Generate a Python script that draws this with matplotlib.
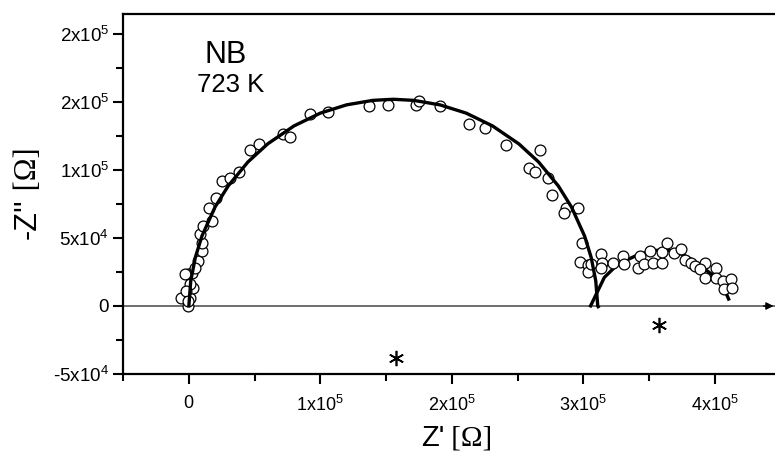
import matplotlib
matplotlib.use("Agg")
import matplotlib.pyplot as plt
import numpy as np

plt.rcParams['font.family'] = ['Liberation Sans', 'DejaVu Sans']
plt.rcParams['mathtext.default'] = 'regular'

# ---- data (Ohm) ----
S = 1e4
z_re = np.array([-0.60, -0.07, -0.02, 0.24, 0.74, 1.00, 1.00, 0.82, 1.07, 1.76, 1.53, 2.09, 2.52, 3.16, 3.79,
                 4.68, 5.31, 7.17, 7.73, 9.25, 10.57, 13.70, 15.18, 17.26, 17.51, 19.11,
                 21.32, 22.52, 24.12, 26.71, 25.89, 26.33, 27.34, 27.60, 28.69, 28.56, 29.58, 29.89, 29.78,
                 30.34, 30.34, 31.36, 31.41, 32.25, 33.01, 33.13,
                 30.59, 31.36, 34.15, 34.28, 35.04, 34.61, 35.30, 35.98, 35.98, 36.39, 36.90, 37.45, 37.71,
                 38.16, 38.47, 39.23, 38.85, 39.28, 40.12, 40.12, 40.63, 41.21, 40.71, 41.27,
                 -0.27, 0.11, 0.36, 0.49, 0.11, -0.20, -0.05]) * S
z_im = np.array([0.61, 0.0, 2.35, 2.45, 3.31, 4.04, 4.65, 5.32, 5.88, 6.25, 7.23, 7.96, 9.19, 9.39, 9.85,
                 11.45, 11.89, 12.67, 12.43, 14.13, 14.24, 14.71, 14.78, 14.76, 15.07, 14.71,
                 13.40, 13.11, 11.82, 11.45, 10.13, 9.87, 9.38, 8.14, 7.23, 6.82, 7.23, 4.61, 3.26,
                 3.01, 2.52, 3.80, 3.18, 3.18, 3.68, 3.07,
                 3.07, 2.82, 2.82, 3.68, 4.04, 3.07, 3.18, 3.18, 3.99, 4.61, 3.92, 4.17, 3.36,
                 3.18, 2.94, 3.18, 2.70, 2.08, 2.82, 2.08, 1.84, 1.96, 1.23, 1.35,
                 2.33, 0.61, 1.35, 2.82, 1.62, 1.10, 0.37]) * S

fit1_re = np.array([0.0, 0.15, 0.5, 1.0, 2.0, 3.0, 4.5, 6.0, 8.0, 10.0, 12.0, 14.0, 15.55,
                    17.1, 19.1, 21.1, 23.1, 25.1, 26.6, 28.1, 29.1, 30.1, 30.6, 30.95, 31.1, 31.2]) * S
fit1_im = np.array([-0.1, 1.83, 3.57, 5.14, 7.28, 8.83, 10.59, 11.92, 13.24, 14.18, 14.79, 15.12, 15.2,
                    15.12, 14.79, 14.18, 13.24, 11.92, 10.59, 8.83, 7.28, 5.14, 3.57, 1.83, 0.0, -0.15]) * S

fit2_re = np.array([30.5, 31.1, 31.6, 32.6, 34.0, 35.2, 36.2, 37.2, 38.2, 39.2, 40.2, 40.7, 41.1]) * S
fit2_im = np.array([-0.1, 1.1, 2.1, 3.05, 3.7, 4.05, 4.15, 3.95, 3.45, 2.75, 2.0, 1.3, 0.4]) * S

centers_re = np.array([15.73, 35.78]) * S
centers_im = np.array([-3.82, -1.40]) * S

yticks = [-5e4, 0, 5e4, 1e5, 1.5e5, 2e5]
ytick_labels = ['-5x10$^4$', '0', '5x10$^4$', '1x10$^5$', '2x10$^5$', '2x10$^5$']
xticks = [0, 1e5, 2e5, 3e5, 4e5]
xtick_labels = ['0', '1x10$^5$', '2x10$^5$', '3x10$^5$', '4x10$^5$']

W, H = 775, 457
fig = plt.figure(figsize=(W / 100, H / 100), dpi=100)
ax = fig.add_axes([123 / W, 1 - 374 / H, 1 - 123 / W + 0.002, (374 - 13.5) / H])

ax.set_xlim(-5e4, 4.4695e5)
ax.set_ylim(-5e4, 2.1507e5)

# zero line with arrow
ax.axhline(0, color='#555555', lw=1.2, zorder=1)
ax.annotate('', xy=(4.468e5, 0), xytext=(4.35e5, 0),
            arrowprops=dict(arrowstyle='-|>', color='k', lw=1.0, mutation_scale=11),
            zorder=2, annotation_clip=False)

ax.plot(fit2_re, fit2_im, color='k', lw=2.4, zorder=2, solid_capstyle='butt')
ax.plot(z_re, z_im, 'o', ms=7.8, mfc='white', mec='k', mew=0.9, zorder=3)
ax.plot(fit1_re, fit1_im, color='k', lw=2.4, zorder=4, solid_capstyle='butt')
ax.plot(centers_re, centers_im, ls='none', marker=(6, 2, 0), ms=11, mec='k', mew=1.2, zorder=4)

for s in ['left', 'bottom', 'top']:
    ax.spines[s].set_linewidth(1.6)
ax.spines['right'].set_visible(False)

ax.set_yticks(yticks)
ax.set_yticklabels(ytick_labels, fontsize=13.5)
ax.set_yticks([-2.5e4, 2.5e4, 7.5e4, 1.25e5, 1.75e5], minor=True)
ax.set_xticks(xticks)
ax.set_xticklabels(xtick_labels, fontsize=13)
ax.set_xticks([-5e4, 5e4, 1.5e5, 2.5e5, 3.5e5], minor=True)
ax.tick_params(axis='both', which='major', direction='out', length=7, width=1.5)
ax.tick_params(axis='both', which='minor', direction='out', length=5, width=1.5)
ax.tick_params(axis='y', which='both', pad=3)
ax.tick_params(axis='x', which='both', pad=8)
ax.tick_params(axis='x', which='both', top=False)

# annotations
fig.text(226 / W, 1 - 63 / H, 'NB', fontsize=22, ha='center', va='baseline')
fig.text(231 / W, 1 - 92 / H, '723 K', fontsize=18.5, ha='center', va='baseline')

# axis labels (sans + serif parts)
fig.text(444 / W, 1 - 446 / H, "Z'", fontsize=21, ha='right', va='baseline')
fig.text(444 / W, 1 - 446 / H, " [Ω]", fontsize=21, ha='left', va='baseline', family='Liberation Serif')
fig.text(28 / W, 1 - 198 / H, "-Z''", fontsize=22, rotation=90, ha='center', va='top')
fig.text(28 / W, 1 - 198 / H, " [Ω]", fontsize=22, rotation=90, ha='center', va='bottom',
         family='Liberation Serif')

fig.savefig('out.png', dpi=100)
